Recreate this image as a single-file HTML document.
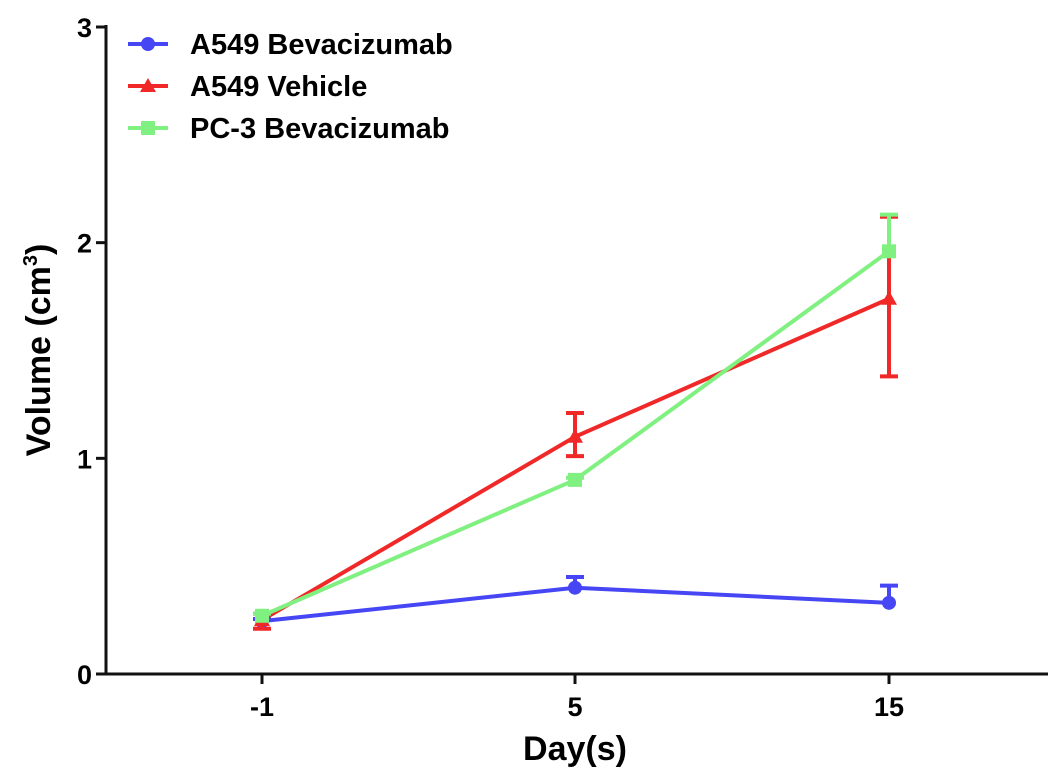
<!DOCTYPE html>
<html><head><meta charset="utf-8"><style>
body{margin:0;background:#fff;}
svg{display:block;font-family:"Liberation Sans",Arial,sans-serif;font-weight:bold;}
</style></head><body>
<svg id="chart" width="1063" height="783" viewBox="0 0 1063 783">
<g id="axes"></g><g id="series"></g><g id="legend"></g>
<text x="50" y="350" font-size="34" text-anchor="middle" transform="rotate(-90 50 350)">Volume (cm<tspan font-size="20" dy="-13">3</tspan><tspan dy="13">)</tspan></text>
<text x="575" y="760" font-size="34" text-anchor="middle">Day(s)</text>
</svg>
<script>
const categories = ["-1","5","15"];
const yTicks = [0,1,2,3];
const seriesNames = ["A549 Bevacizumab","A549 Vehicle","PC-3 Bevacizumab"];
const colors = ["#4646f5","#f02828","#80f080"];
const blueVals = [0.245,0.40,0.33];
const blueErrUp = [0.01,0.05,0.08];
const blueErrDown = [0,0,0];
const redVals = [0.25,1.10,1.74];
const redErrUp = [0.03,0.11,0.38];
const redErrDown = [0.04,0.09,0.36];
const greenVals = [0.27,0.90,1.96];
const greenErrUp = [0.01,0.01,0.17];
const greenErrDown = [0,0,0];

const NS="http://www.w3.org/2000/svg";
const X0=106,X1=1048,Y0=674,Y3=27;
const catX=[262,575,889];
const xScale=i=>catX[i];
const yScale=v=>Y0-(v/3)*(Y0-Y3);
function mk(tag,attrs,parent){const e=document.createElementNS(NS,tag);for(const k in attrs)e.setAttribute(k,attrs[k]);parent.appendChild(e);return e;}
const axes=document.getElementById('axes'),ser=document.getElementById('series'),leg=document.getElementById('legend');
let a=mk('line',{x1:X0,y1:Y3-2,x2:X0,y2:Y0+1,stroke:'#111','stroke-width':3},axes);

a=mk('line',{x1:X0,y1:Y0,x2:X1,y2:Y0,stroke:'#111','stroke-width':3},axes);

yTicks.forEach(t=>{const y=yScale(t);
 mk('line',{x1:X0-10,y1:y,x2:X0,y2:y,stroke:'#111','stroke-width':3},axes);
 const tx=mk('text',{x:X0-14,y:y+10,'font-size':27,'text-anchor':'end'},axes);tx.textContent=t;
 });
categories.forEach((c,i)=>{const x=xScale(i);
 mk('line',{x1:x,y1:Y0,x2:x,y2:Y0+10,stroke:'#111','stroke-width':3},axes);
 const tx=mk('text',{x:x,y:Y0+42,'font-size':27,'text-anchor':'middle'},axes);tx.textContent=c;
 });
function marker(shape,x,y,col,g){
 if(shape==0)mk('circle',{cx:x,cy:y,r:7,fill:col},g);
 else if(shape==1)mk('polygon',{points:`${x},${y-8} ${x+8},${y+6} ${x-8},${y+6}`,fill:col},g);
 else mk('rect',{x:x-7,y:y-7,width:14,height:14,fill:col},g);}
const all=[[blueVals,blueErrUp,blueErrDown],[redVals,redErrUp,redErrDown],[greenVals,greenErrUp,greenErrDown]];
all.forEach(([vals,up,dn],s)=>{
 const g=mk('g',{},ser);
 const col=colors[s];
 mk('polyline',{points:vals.map((v,i)=>xScale(i)+','+yScale(v)).join(' '),fill:'none',stroke:col,'stroke-width':4},g);
 vals.forEach((v,i)=>{const x=xScale(i);
  const e=mk('g',{},g);
  const yt=yScale(v+up[i]),yb=yScale(v-dn[i]);
  mk('line',{x1:x,y1:yt,x2:x,y2:yb,stroke:col,'stroke-width':4},e);
  if(up[i]>0)mk('line',{x1:x-9,y1:yt,x2:x+9,y2:yt,stroke:col,'stroke-width':4},e);
  if(dn[i]>0)mk('line',{x1:x-9,y1:yb,x2:x+9,y2:yb,stroke:col,'stroke-width':4},e);
  const m=mk('g',{},g);
  marker(s,x,yScale(v),col,m);});
});
seriesNames.forEach((n,s)=>{const y=44+s*42;
 const g=mk('g',{},leg);
 mk('line',{x1:128,y1:y,x2:168,y2:y,stroke:colors[s],'stroke-width':4},g);
 marker(s,148,y,colors[s],g);
 const t=mk('text',{x:190,y:y+10,'font-size':29},g);t.textContent=n;});
</script>
</body></html>
